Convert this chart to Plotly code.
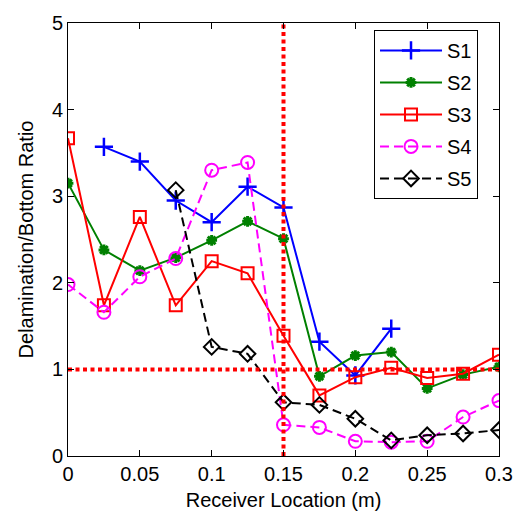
import plotly.graph_objects as go

x_all = [0, 0.025, 0.05, 0.075, 0.1, 0.125, 0.15, 0.175, 0.2, 0.225, 0.25, 0.275, 0.3]

s1_x = [0.025, 0.05, 0.075, 0.1, 0.125, 0.15, 0.175, 0.2, 0.225]
s1_y = [3.57, 3.40, 2.95, 2.70, 3.11, 2.87, 1.32, 0.93, 1.47]

s2_x = x_all
s2_y = [3.15, 2.38, 2.14, 2.29, 2.49, 2.71, 2.51, 0.92, 1.16, 1.20, 0.78, 0.94, 1.03]

s3_x = x_all
s3_y = [3.67, 1.74, 2.76, 1.74, 2.25, 2.11, 1.39, 0.70, 0.91, 1.02, 0.90, 0.95, 1.17]

s4_x = x_all
s4_y = [1.98, 1.66, 2.07, 2.28, 3.30, 3.39, 0.36, 0.33, 0.17, 0.16, 0.17, 0.45, 0.64]

s5_x = [0.075, 0.1, 0.125, 0.15, 0.175, 0.2, 0.225, 0.25, 0.275, 0.3]
s5_y = [3.07, 1.26, 1.18, 0.62, 0.59, 0.43, 0.18, 0.24, 0.26, 0.30]

ref_x = 0.15
ref_y = 1.0

x_ticks = [0, 0.05, 0.1, 0.15, 0.2, 0.25, 0.3]
x_labels = ["0", "0.05", "0.1", "0.15", "0.2", "0.25", "0.3"]
y_ticks = [0, 1, 2, 3, 4, 5]

fig = go.Figure()

series = [
    ("S1", s1_x, s1_y, "#0000ff", "solid", "cross-thin-open", 13, 2.5),
    ("S2", s2_x, s2_y, "#008000", "solid", "asterisk-open", 9, 3),
    ("S3", s3_x, s3_y, "#ff0000", "solid", "square-open", 12, 2),
    ("S4", s4_x, s4_y, "#ff00ff", "9px,5px", "circle-open", 13, 2),
    ("S5", s5_x, s5_y, "#000000", "9px,5px", "diamond-open", 12, 2),
]
for name, xs, ys, col, dash, sym, size, mlw in series:
    fig.add_trace(go.Scatter(
        x=xs, y=ys, name=name, mode="lines+markers", legendgroup=name,
        line=dict(color=col, width=2, dash=dash),
        marker=dict(symbol=sym, size=size, color=col, line=dict(color=col, width=mlw)),
    ))

fig.add_trace(go.Scatter(x=[ref_x, ref_x], y=[0, 5], mode="lines", showlegend=False,
                         line=dict(color="#ff0000", width=4, dash="4px,3.5px"), hoverinfo="skip"))
fig.add_trace(go.Scatter(x=[0, 0.3], y=[ref_y, ref_y], mode="lines", showlegend=False,
                         line=dict(color="#ff0000", width=4, dash="4px,3.5px"), hoverinfo="skip"))

axis_common = dict(showline=True, linecolor="black", linewidth=1, mirror="ticks",
                   ticks="inside", ticklen=6, tickcolor="black", showgrid=False,
                   zeroline=False, tickfont=dict(size=20, color="black"))

fig.update_layout(
    width=530, height=519,
    margin=dict(l=68, r=31, t=18, b=61),
    paper_bgcolor="white", plot_bgcolor="white",
    font=dict(family="Liberation Sans, Arial, sans-serif", size=20, color="black"),
    xaxis=dict(range=[0, 0.3], tickvals=x_ticks, ticktext=x_labels,
               title=dict(text="Receiver Location (m)", font=dict(size=20), standoff=8),
               **axis_common),
    yaxis=dict(range=[0, 5], tickvals=y_ticks,
               title=dict(text="Delamination/Bottom Ratio", font=dict(size=20), standoff=12),
               **axis_common),
    legend=dict(x=0.71, y=0.984, xanchor="left", yanchor="top",
                bordercolor="black", borderwidth=1, bgcolor="white",
                font=dict(size=20), tracegroupgap=3, itemwidth=62),
)

fig.write_html("out.html")
